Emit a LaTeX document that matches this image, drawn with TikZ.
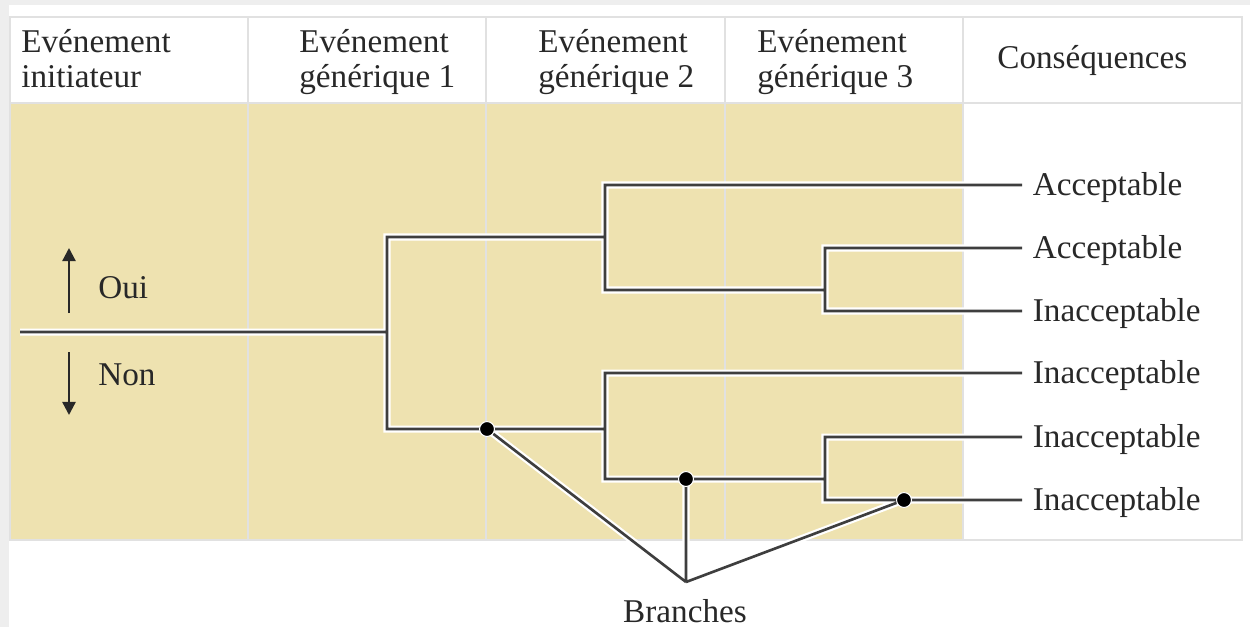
\documentclass[tikz,border=0pt]{standalone}
\usepackage{fontspec}
\setmainfont{Liberation Serif}
\usetikzlibrary{arrows.meta}

\definecolor{cellyellow}{RGB}{238,226,176}
\definecolor{gridgrey}{RGB}{225,225,225}
\definecolor{framegrey}{RGB}{238,238,238}
\definecolor{treeline}{RGB}{62,62,62}
\definecolor{ink}{RGB}{40,40,40}

\tikzset{
  txt/.style={font=\fontsize{18.9}{20}\selectfont, text=ink, inner sep=0pt},
  conseq/.style={txt, anchor=west, inner xsep=6pt, inner ysep=0pt,
                 text height=12pt, text depth=0.6pt},
  branch/.style={draw=treeline, line width=1.5pt,
                 preaction={draw=white, line width=4pt}},
  knot/.style={circle, fill=black, inner sep=0pt, minimum size=8.5pt,
               draw=white, line width=0.6pt},
  grid/.style={draw=gridgrey, line width=1.6pt},
  yesno/.style={draw=ink, line width=1.3pt, -{Triangle[width=7.5pt,length=7.5pt]}}
}

\begin{document}
\begin{tikzpicture}[x=0.02cm, y=-0.02cm]
\useasboundingbox (0,0) rectangle (1250,627);
\fill[white] (0,0) rectangle (1250,627);

% soft frame along the top and left edges
\fill[framegrey] (0,0) rectangle (1250,5);
\fill[framegrey] (0,0) rectangle (9,627);

% table body
\fill[cellyellow] (10,104) rectangle (963,540);
\draw[grid] (10,17) rectangle (1242,540);
\draw[grid] (10,103) -- (1242,103);
\foreach \cx in {248,486,725,963}
  \draw[grid] (\cx,17) -- (\cx,540);

% column headings
\node[txt, anchor=base west] (h1a) at (21,52) {Evénement};
\node[txt, anchor=base west] (h1b) at (21,87) {initiateur};
\node[txt, anchor=base west] (h2a) at (299,52) {Evénement};
\node[txt, anchor=base west] (h2b) at (299,87) {générique 1};
\node[txt, anchor=base west] (h3a) at (538,52) {Evénement};
\node[txt, anchor=base west] (h3b) at (538,87) {générique 2};
\node[txt, anchor=base west] (h4a) at (757,52) {Evénement};
\node[txt, anchor=base west] (h4b) at (757,87) {générique 3};
\node[txt, anchor=base west] (h5) at (997,68) {Conséquences};

% consequences
\node[conseq] (c1) at (1022,185) {Acceptable};
\node[conseq] (c2) at (1022,248) {Acceptable};
\node[conseq] (c3) at (1022,311) {Inacceptable};
\node[conseq] (c4) at (1022,373) {Inacceptable};
\node[conseq] (c5) at (1022,437) {Inacceptable};
\node[conseq] (c6) at (1022,500) {Inacceptable};

% tree forks
\coordinate (root) at (20,332);
\coordinate (f1) at (387,332);
\coordinate (fa) at (605,237);
\coordinate (fb) at (605,429);
\coordinate (fa2) at (825,290);
\coordinate (fb2) at (825,479);

% branch call-out
\node[txt, anchor=base] (br) at (685,622) {Branches};
\coordinate (bp) at (686,582);
\coordinate (d1) at (487,429);
\coordinate (d2) at (686,479);
\coordinate (d3) at (904,500);

% the whole event tree as one path, so the white halo sits beneath every line
\draw[branch, line join=miter]
  (root) -- (f1)
  (f1) |- (fa)  (f1) |- (fb)
  (fa) |- (c1.west)  (fa) |- (fa2)
  (fa2) |- (c2.west)  (fa2) |- (c3.west)
  (fb) |- (c4.west)  (fb) |- (fb2)
  (fb2) |- (c5.west)  (fb2) |- (c6.west)
  (d1) -- (bp)  (d2) -- (bp)  (d3) -- (bp);

\node[knot] (k1) at (d1) {};
\node[knot] (k2) at (d2) {};
\node[knot] (k3) at (d3) {};

% yes / no legend
\node[txt, anchor=base west] (oui) at (98,298) {Oui};
\node[txt, anchor=base west] (non) at (98,385) {Non};
\coordinate (upfrom) at (69,313);
\coordinate (upto) at (69,248);
\coordinate (dnfrom) at (69,352);
\coordinate (dnto) at (69,415);
\draw[yesno] (upfrom) -- (upto);
\draw[yesno] (dnfrom) -- (dnto);
\end{tikzpicture}
\end{document}
